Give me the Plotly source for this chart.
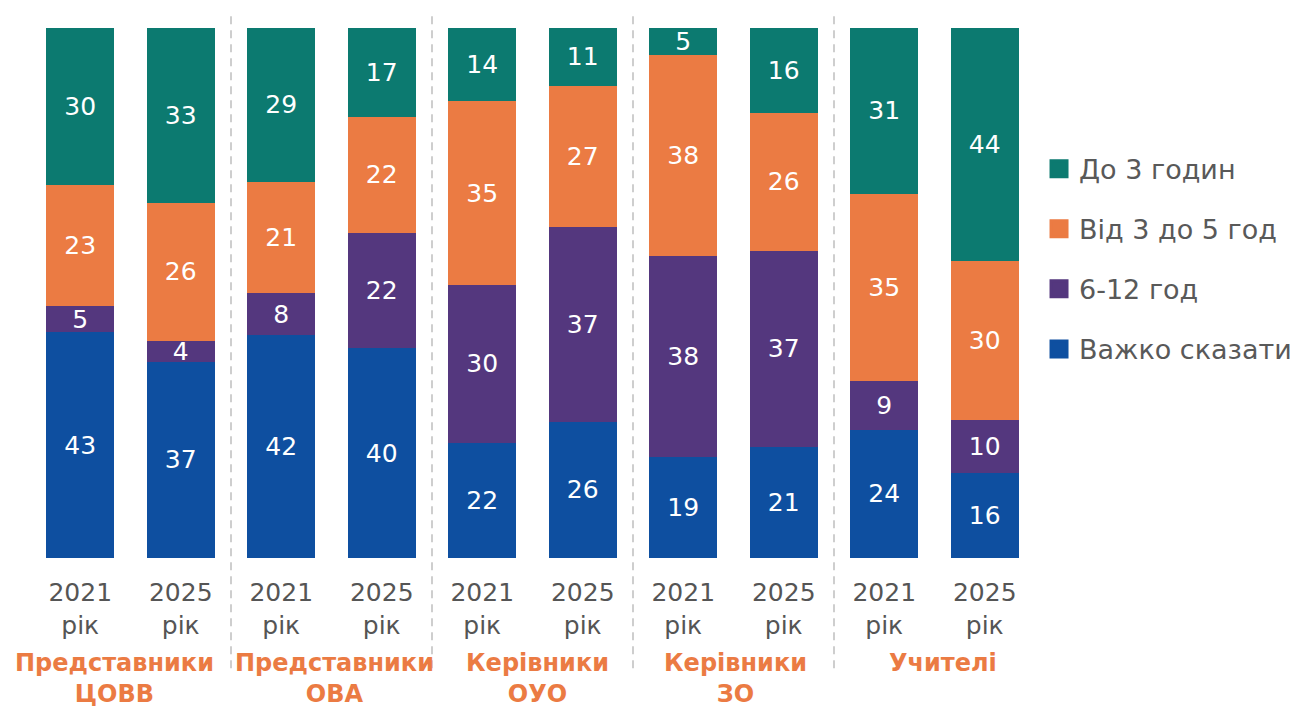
import plotly.graph_objects as go

groups = ["Представники<br>ЦОВВ", "Представники<br>ОВА", "Керівники<br>ОУО", "Керівники<br>ЗО", "Учителі"]
years = ["2021<br>рік", "2025<br>рік"]
hard_to_say = [43, 37, 42, 40, 22, 26, 19, 21, 24, 16]
h6_12 = [5, 4, 8, 22, 30, 37, 38, 37, 9, 10]
h3_5 = [23, 26, 21, 22, 35, 27, 38, 26, 35, 30]
up_to_3 = [30, 33, 29, 17, 14, 11, 5, 16, 31, 44]

series = [
    ("Важко сказати", hard_to_say, "#0E4FA0"),
    ("6-12 год", h6_12, "#54377E"),
    ("Від 3 до 5 год", h3_5, "#EB7B43"),
    ("До 3 годин", up_to_3, "#0C7A70"),
]

FONT = "DejaVu Sans"
x = list(range(len(hard_to_say)))
ticktext = [years[i % 2] for i in x]
group_label_x = [0.34, 2.53, 4.55, 6.52, 8.58]

fig = go.Figure()
for name, vals, color in series:
    fig.add_trace(go.Bar(
        x=x, y=vals, name=name, marker=dict(color=color, line=dict(width=0)),
        text=[str(v) for v in vals], textposition="inside", insidetextanchor="middle",
        textangle=0, textfont=dict(color="white", size=25, family=FONT), constraintext="none",
        showlegend=False, width=0.68, hoverinfo="skip",
    ))
for name, vals, color in reversed(series):
    fig.add_trace(go.Scatter(
        x=[None], y=[None], mode="markers", name=name, legendgroup=name,
        marker=dict(symbol="square", size=16, color=color, line=dict(color=color, width=3)),
    ))

for gx, g in zip(group_label_x, groups):
    fig.add_annotation(x=gx, y=-0.168, xref="x", yref="paper", text=g, showarrow=False,
                       yanchor="top", font=dict(family=FONT, size=24, color="#EB7B43", weight="bold"))
for sx in [1.5, 3.5, 5.5, 7.5]:
    fig.add_shape(type="line", x0=sx, x1=sx, xref="x", yref="paper", y0=-0.208, y1=1.03,
                  line=dict(color="#BFBFBF", width=1.5, dash="8px,6px"))

fig.update_layout(
    width=1293, height=701, barmode="stack", barnorm="percent",
    margin=dict(l=22, r=266, t=20, b=151, autoexpand=False),
    plot_bgcolor="white", paper_bgcolor="white",
    uniformtext=dict(minsize=25, mode="show"),
    xaxis=dict(range=[-0.5, 9.5], tickvals=x, ticktext=ticktext, showgrid=False, zeroline=False,
               showline=False, ticklabelstandoff=17,
               tickfont=dict(family=FONT, size=25, color="#555555"), fixedrange=True),
    yaxis=dict(range=[0, 100], visible=False, fixedrange=True),
    legend=dict(x=1.004, y=0.78, xanchor="left", yanchor="top", traceorder="grouped",
                tracegroupgap=22, font=dict(family=FONT, size=27, color="#595959"), itemwidth=30),
    font=dict(family=FONT),
)
fig.write_html("out.html")
